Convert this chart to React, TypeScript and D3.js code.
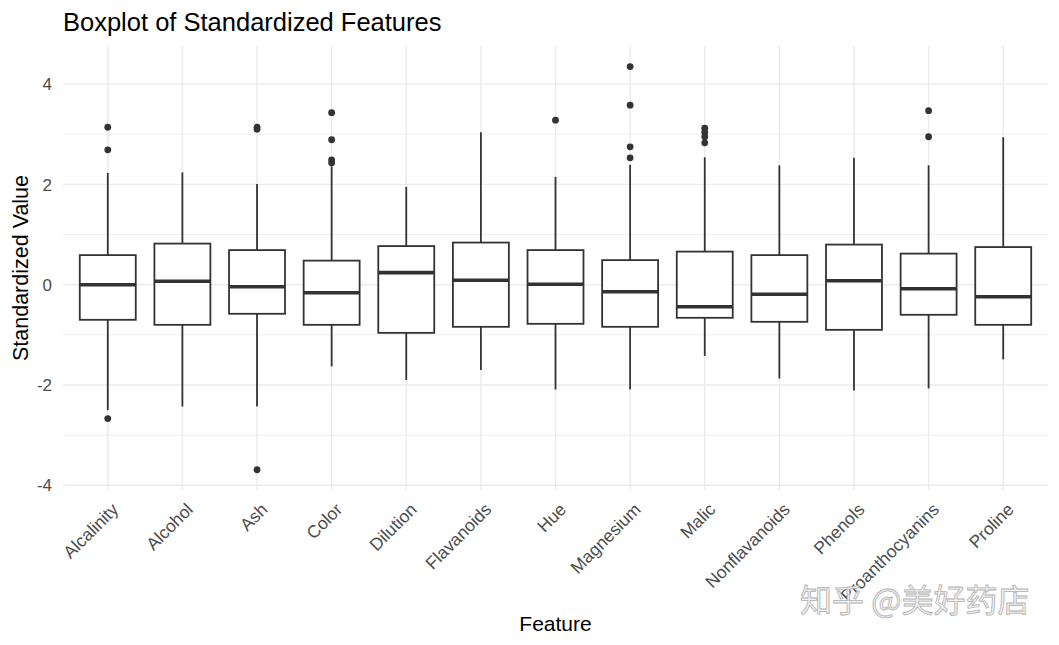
import React from "react";
import * as d3 from "d3";

const features = ["Alcalinity", "Alcohol", "Ash", "Color", "Dilution", "Flavanoids", "Hue", "Magnesium", "Malic", "Nonflavanoids", "Phenols", "Proanthocyanins", "Proline"];
const whiskerLow = [-2.50, -2.43, -2.43, -1.63, -1.90, -1.70, -2.09, -2.09, -1.42, -1.87, -2.11, -2.07, -1.49];
const q1 = [-0.70, -0.80, -0.58, -0.80, -0.96, -0.84, -0.78, -0.84, -0.66, -0.74, -0.90, -0.60, -0.80];
const medians = [0.00, 0.07, -0.04, -0.16, 0.24, 0.09, 0.01, -0.14, -0.44, -0.19, 0.08, -0.08, -0.24];
const q3 = [0.59, 0.82, 0.69, 0.48, 0.77, 0.84, 0.69, 0.49, 0.66, 0.59, 0.80, 0.62, 0.75];
const whiskerHigh = [2.23, 2.24, 2.01, 2.36, 1.95, 3.04, 2.15, 2.39, 2.54, 2.38, 2.53, 2.38, 2.94];
const outliers: number[][] = [
  [3.14, 2.69, -2.67],
  [],
  [3.14, 3.10, -3.69],
  [3.43, 2.89, 2.49, 2.43],
  [],
  [],
  [3.28],
  [4.35, 3.58, 2.75, 2.53],
  [3.12, 3.04, 2.95, 2.83],
  [],
  [],
  [3.47, 2.95],
  [],
];
const yTicks = [-4, -2, 0, 2, 4];
const yMinor = [-3, -1, 1, 3];

const W = 1059;
const H = 645;
const panel = { left: 63, right: 1048, top: 46, bottom: 490 };

export default function App() {
  const x = d3.scalePoint<string>().domain(features).range([panel.left, panel.right]).padding(0.6);
  const y = d3.scaleLinear().domain([0, 4]).range([284.7, 284.7 - 4 * 50.15]);
  const step = x.step();
  const bw = step * 0.75;
  const ink = "#333333";
  const font = "'Liberation Sans', Arial, sans-serif";

  return (
    <svg width={W} height={H} style={{ position: "absolute", left: 0, top: 0, background: "#fff" }} fontFamily={font}>
      {/* grid */}
      {yMinor.map((t) => (
        <line key={"mn" + t} x1={panel.left} x2={panel.right} y1={y(t)} y2={y(t)} stroke="#EBEBEB" strokeWidth={0.9} />
      ))}
      {yTicks.map((t) => (
        <line key={"mj" + t} x1={panel.left} x2={panel.right} y1={y(t)} y2={y(t)} stroke="#EBEBEB" strokeWidth={1.4} />
      ))}
      {features.map((f) => (
        <line key={"vg" + f} x1={x(f)} x2={x(f)} y1={panel.top} y2={panel.bottom} stroke="#EBEBEB" strokeWidth={1.4} />
      ))}
      {/* boxes */}
      {features.map((f, i) => {
        const cx = x(f)!;
        return (
          <g key={"b" + f}>
            <line x1={cx} x2={cx} y1={y(whiskerHigh[i])} y2={y(q3[i])} stroke={ink} strokeWidth={1.8} />
            <line x1={cx} x2={cx} y1={y(q1[i])} y2={y(whiskerLow[i])} stroke={ink} strokeWidth={1.8} />
            <rect x={cx - bw / 2} y={y(q3[i])} width={bw} height={y(q1[i]) - y(q3[i])} fill="#fff" stroke={ink} strokeWidth={1.8} />
            <line x1={cx - bw / 2} x2={cx + bw / 2} y1={y(medians[i])} y2={y(medians[i])} stroke={ink} strokeWidth={3.6} />
            {outliers[i].map((v, j) => (
              <circle key={j} cx={cx} cy={y(v)} r={3.4} fill={ink} />
            ))}
          </g>
        );
      })}
      {/* y tick labels */}
      {yTicks.map((t) => (
        <text key={"yt" + t} x={52} y={y(t)} dy="0.36em" textAnchor="end" fontSize={17} fill="#4D4D4D">
          {t}
        </text>
      ))}
      {/* x tick labels */}
      {features.map((f) => (
        <text
          key={"xt" + f}
          transform={`translate(${x(f)! + 3},${502}) rotate(-45)`}
          textAnchor="end"
          dy="0.7em"
          fontSize={17.5}
          fill="#4D4D4D"
        >
          {f}
        </text>
      ))}
      {/* titles */}
      <text x={63} y={30.5} fontSize={25.5} fill="#000">Boxplot of Standardized Features</text>
      <text x={(panel.left + panel.right) / 2} y={631} textAnchor="middle" fontSize={21} fill="#000">Feature</text>
      <text transform={`translate(28,${(panel.top + panel.bottom) / 2 + 0}) rotate(-90)`} textAnchor="middle" fontSize={21.5} fill="#000">
        Standardized Value
      </text>
      {/* watermark */}
      <text x={800} y={612} fontSize={32} fontFamily="'Noto Sans CJK SC', sans-serif" fill="#f2f2f2" stroke="#a8a8a8" strokeWidth={0.8} opacity={0.9}>
        知乎 @美好药店
      </text>
    </svg>
  );
}
